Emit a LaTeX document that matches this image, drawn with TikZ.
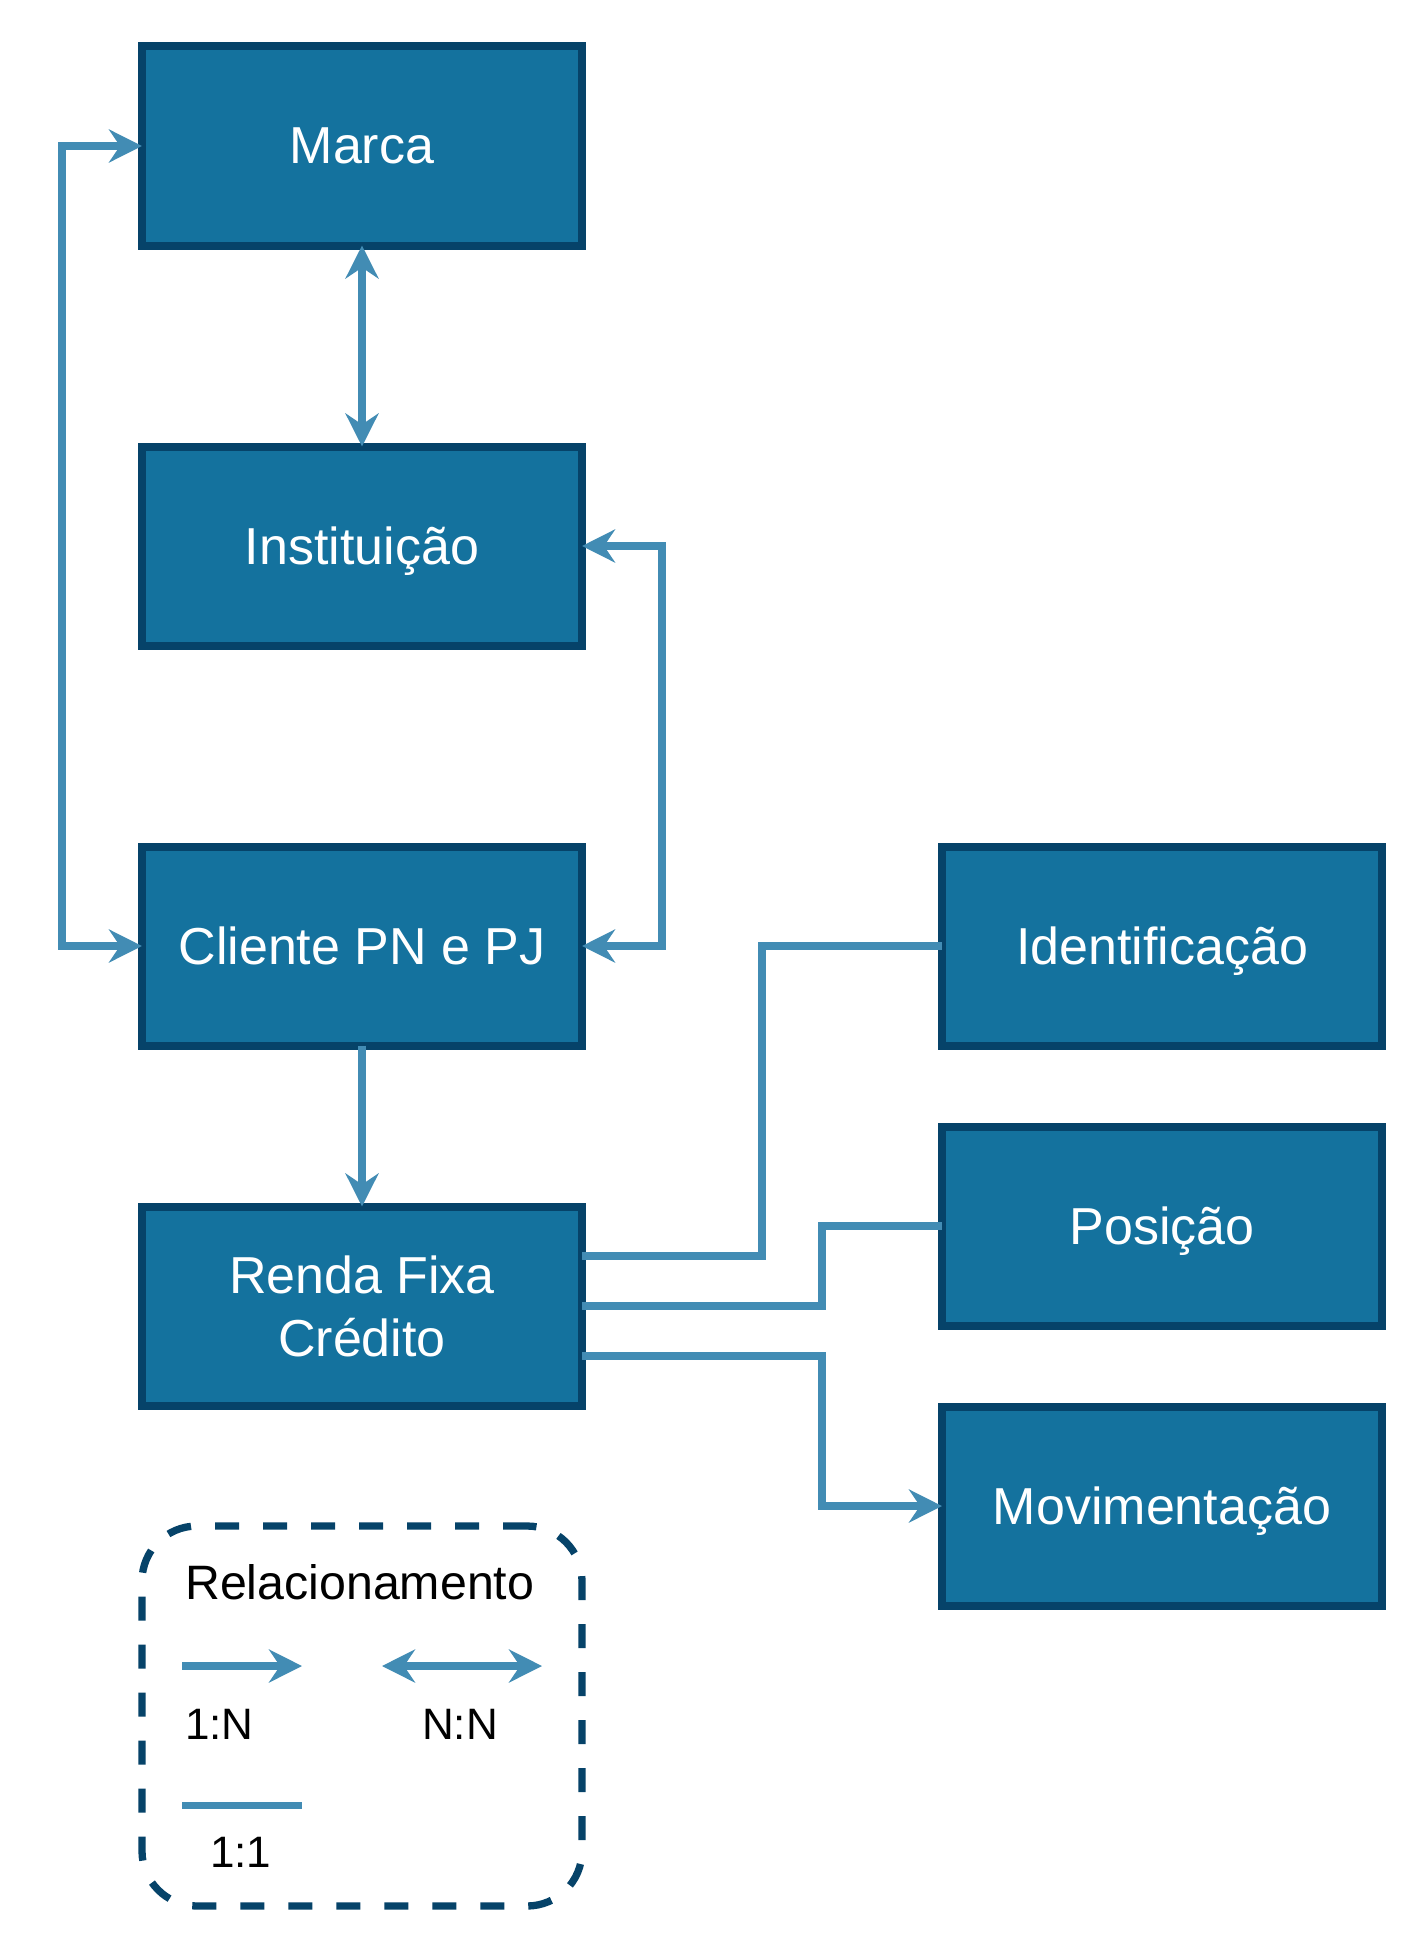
\documentclass[tikz,border=0pt]{standalone}
\usepackage{fontspec}
\setmainfont{Liberation Sans}
\usetikzlibrary{arrows.meta,calc}
\definecolor{boxfill}{RGB}{20,114,158}
\definecolor{boxline}{RGB}{6,67,105}
\definecolor{conn}{RGB}{66,140,180}
\begin{document}
\begin{tikzpicture}[x=1pt,y=-1pt,
  entity/.style={draw=boxline, fill=boxfill, line width=8pt, minimum width=440pt,
    minimum height=199pt, outer sep=0pt, inner sep=0pt, text=white,
    font=\fontsize{52}{63}\selectfont},
  single/.style={entity, text height=36pt, text depth=0pt},
  conline/.style={draw=conn, line width=7.3pt},
  onen/.style={conline, -{Stealth[length=33pt,width=33pt,inset=11pt]}},
  nn/.style={conline, {Stealth[length=33pt,width=33pt,inset=11pt]}-{Stealth[length=33pt,width=33pt,inset=11pt]}},
  legendbox/.style={draw=boxline, line width=7.3pt, dash pattern=on 24pt off 24pt,
    rounded corners=55pt, minimum width=440pt, minimum height=380pt, inner sep=0pt, outer sep=0pt},
  legtitle/.style={inner sep=0pt, anchor=base west, font=\fontsize{48.3}{56}\selectfont},
  legtext/.style={inner sep=0pt, anchor=base west, font=\fontsize{44}{50}\selectfont}
]
\path[fill=white] (0,0) rectangle (1424,1956);
\useasboundingbox (0,0) rectangle (1424,1956);

% entities
\node[single] (marca) at (362,146) {Marca};
\node[single] (inst) at (362,546) {Instituição};
\node[single] (cli) at (362,946) {Cliente PN e PJ};
\node[entity, align=center] (renda) at (362,1306) {Renda Fixa\\Crédito};
\node[single] (ident) at (1162,946) {Identificação};
\node[single] (pos) at (1162,1226) {Posição};
\node[single] (mov) at (1162,1506) {Movimentação};

% connectors
\draw[nn] (marca.south) -- (inst.north);
\draw[nn] (marca.west) -- ++(-80,0) |- (cli.west);
\draw[nn] (inst.east) -- ++(80,0) |- (cli.east);
\draw[onen] (cli.south) -- (renda.north);
\draw[conline] ($(renda.east)+(0,-50)$) -- ++(180,0) |- (ident.west);
\draw[conline] (renda.east) -- ++(240,0) |- (pos.west);
\draw[onen] ($(renda.east)+(0,50)$) -- ++(240,0) |- (mov.west);

% legend
\node[legendbox] (legend) at (362,1716) {};
\node[legtitle] (rel) at (185,1599) {Relacionamento};
\coordinate (a1s) at (182,1666);
\coordinate (a1e) at (302,1666);
\coordinate (a2s) at (382,1666);
\coordinate (a2e) at (542,1666);
\coordinate (a3s) at (182,1805.5);
\coordinate (a3e) at (302,1805.5);
\draw[onen] (a1s) -- (a1e);
\draw[nn] (a2s) -- (a2e);
\draw[conline] (a3s) -- (a3e);
\node[legtext] (l1n) at (185,1739) {1:N};
\node[legtext] (lnn) at (422,1739) {N:N};
\node[legtext] (l11) at (210,1867.5) {1:1};
\end{tikzpicture}
\end{document}
